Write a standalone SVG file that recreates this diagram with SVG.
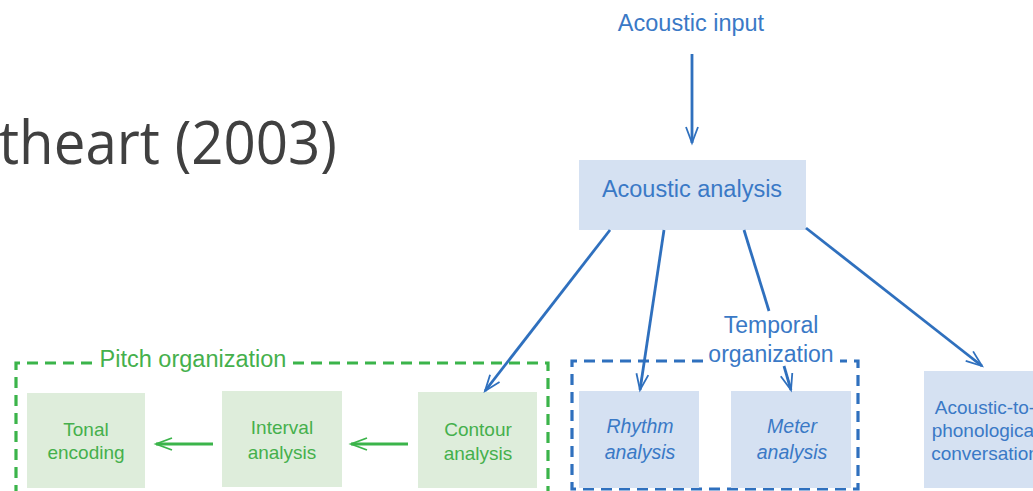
<svg xmlns="http://www.w3.org/2000/svg" width="1033" height="491" viewBox="0 0 1033 491">
<defs>
<style>
.bt{font-family:"Liberation Sans",Arial,sans-serif;fill:#3a79c6;text-anchor:middle}
.gt{font-family:"Liberation Sans",Arial,sans-serif;fill:#45b04c;text-anchor:middle}
.bbox{fill:#d5e1f2}
.gbox{fill:#deeddb}
.bl{stroke:#2f70be;stroke-width:2.8;fill:none}
.gl{stroke:#3bb44a;stroke-width:3;fill:none}
.bd{stroke:#2f70be;stroke-width:3.2;fill:none;stroke-dasharray:11 7}
.gd{stroke:#3bb44a;stroke-width:3.2;fill:none;stroke-dasharray:11 7}
</style>
<marker id="ab" markerUnits="userSpaceOnUse" markerWidth="20" markerHeight="16" refX="17" refY="7" orient="auto" overflow="visible">
<path d="M1,1 L17,7 L1,13 M4,7 L17,7" stroke="#2f70be" stroke-width="1.8" fill="none"/>
</marker>
<marker id="ag" markerUnits="userSpaceOnUse" markerWidth="20" markerHeight="16" refX="17" refY="7" orient="auto" overflow="visible">
<path d="M1,1 L17,7 L1,13 M4,7 L17,7" stroke="#3bb44a" stroke-width="1.8" fill="none"/>
</marker>
</defs>
<rect width="1033" height="491" fill="#ffffff"/>

<text x="-1" y="164" font-family="'Open Sans','Liberation Sans',sans-serif" font-size="60" fill="#404040" textLength="338" lengthAdjust="spacingAndGlyphs">theart (2003)</text>

<g id="acoustic-input">
<text class="bt" x="691" y="31" font-size="23.5">Acoustic input</text>
</g>

<g id="acoustic-analysis">
<rect class="bbox" x="579" y="160" width="227" height="70"/>
<text class="bt" x="692" y="197" font-size="23.5">Acoustic analysis</text>
</g>

<g id="pitch-organization">
<path class="gd" d="M92,363 L16,363 L16,500"/>
<path class="gd" d="M293,363 L548,363 L548,500"/>
<text class="gt" x="193" y="367" font-size="23.5">Pitch organization</text>
</g>

<g id="temporal-organization">
<path class="bd" d="M703,361 L572,361 L572,489 L858,489 L858,361 L840,361"/>
<text class="bt" x="771" y="333" font-size="23">Temporal</text>
<text class="bt" x="771" y="362" font-size="23">organization</text>
</g>

<g id="tonal-encoding">
<rect class="gbox" x="27" y="393" width="118" height="95"/>
<text class="gt" x="86" y="436" font-size="19">Tonal</text>
<text class="gt" x="86" y="459" font-size="19">encoding</text>
</g>

<g id="interval-analysis">
<rect class="gbox" x="222" y="391" width="120" height="96"/>
<text class="gt" x="282" y="434" font-size="19">Interval</text>
<text class="gt" x="282" y="459" font-size="19">analysis</text>
</g>

<g id="contour-analysis">
<rect class="gbox" x="418" y="392" width="119" height="96"/>
<text class="gt" x="478" y="436" font-size="19">Contour</text>
<text class="gt" x="478" y="460" font-size="19">analysis</text>
</g>

<g id="rhythm-analysis">
<rect class="bbox" x="579" y="391" width="120" height="97"/>
<text class="bt" x="640" y="433" font-size="19.5" font-style="italic">Rhythm</text>
<text class="bt" x="640" y="459" font-size="19.5" font-style="italic">analysis</text>
</g>

<g id="meter-analysis">
<rect class="bbox" x="731" y="391" width="120" height="97"/>
<text class="bt" x="792" y="433" font-size="19.5" font-style="italic">Meter</text>
<text class="bt" x="792" y="459" font-size="19.5" font-style="italic">analysis</text>
</g>

<g id="acoustic-to-phonological">
<rect class="bbox" x="924" y="371" width="120" height="117"/>
<text class="bt" x="985" y="414" font-size="19">Acoustic-to-</text>
<text class="bt" x="985" y="437" font-size="19">phonological</text>
<text class="bt" x="985" y="460" font-size="19">conversation</text>
</g>

<g id="connectors">
<line class="bl" x1="692" y1="54" x2="692" y2="143" marker-end="url(#ab)"/>
<line class="bl" x1="610" y1="230" x2="485" y2="391" marker-end="url(#ab)"/>
<line class="bl" x1="664" y1="230" x2="640" y2="390" marker-end="url(#ab)"/>
<line class="bl" x1="744" y1="230" x2="769" y2="311"/>
<line class="bl" x1="784" y1="366" x2="791" y2="390" marker-end="url(#ab)"/>
<line class="bl" x1="806" y1="228" x2="982" y2="366" marker-end="url(#ab)"/>
<line class="gl" x1="213" y1="444" x2="156" y2="444" marker-end="url(#ag)"/>
<line class="gl" x1="408" y1="444" x2="351" y2="444" marker-end="url(#ag)"/>
</g>
</svg>
